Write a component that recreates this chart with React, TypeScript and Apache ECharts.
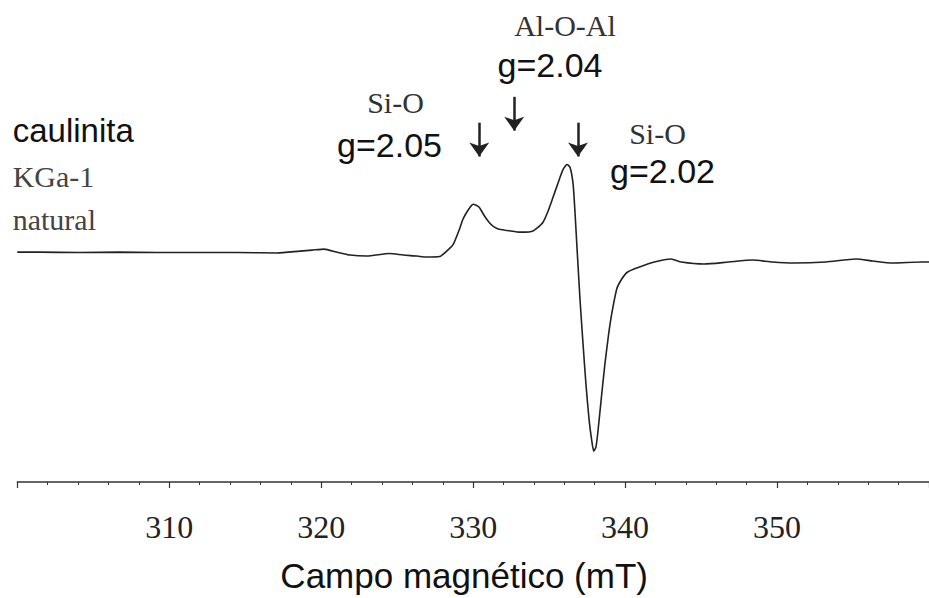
import React, { useEffect, useRef } from "react";
import * as echarts from "echarts";

// Magnetic field (mT) and EPR signal (arbitrary units)
const fieldMT = [
  300.0, 301.5, 304.1, 306.7, 309.3, 311.9, 314.5, 317.1, 318.6, 319.4, 320.2, 321.0,
  321.9, 323.0, 324.5, 325.4, 326.3, 326.9, 327.8, 328.4, 328.7, 329.1, 329.3, 329.5,
  329.8, 330.0, 330.2, 330.4, 330.6, 330.8, 331.1, 331.4, 331.7, 332.1, 332.6, 333.0,
  333.4, 333.9, 334.2, 334.6, 334.9, 335.21, 335.6, 335.92, 336.18, 336.38, 336.58,
  336.71, 336.84, 337.03, 337.23, 337.42, 337.62, 337.81, 337.94, 338.08, 338.2, 338.4,
  338.66, 338.92, 339.12, 339.45, 339.78, 340.17, 340.95, 341.92, 343.02, 343.7, 345.2,
  346.8, 348.4, 349.7, 351.1, 353.2, 355.2, 356.3, 357.6, 359.5, 360.0,
];
const signalAU = [
  0.2, 0.2, 0.15, 0.2, 0.15, 0.15, 0.15, 0.1, 0.3, 0.4, 0.5, 0.2,
  -0.1, -0.2, 0.05, -0.1, -0.2, -0.3, -0.25, 0.5, 1.0, 2.5, 3.4, 4.0,
  4.7, 5.0, 4.9, 4.7, 4.2, 3.7, 3.1, 2.7, 2.5, 2.4, 2.3, 2.2,
  2.2, 2.3, 2.6, 3.2, 4.2, 5.5, 7.2, 8.5, 9.0, 8.7, 7.0,
  4.0, 0.5, -4.5, -9.0, -13.0, -16.5, -18.8, -19.8, -19.4, -18.0, -15.0,
  -11.2, -8.0, -6.0, -3.5, -2.5, -1.8, -1.3, -0.8, -0.5, -0.8, -1.0,
  -0.8, -0.6, -0.8, -0.9, -0.8, -0.5, -0.7, -0.9, -0.8, -0.8,
];

// Axis settings
const xMin = 300;
const xMax = 360;
const xInterval = 10;

// Arrow annotations (field position, start and end in signal units)
const arrowField = [330.4, 332.7, 336.9];
const arrowFrom = [13.2, 15.8, 13.2];
const arrowTo = [9.8, 12.4, 9.8];

const SANS = "'Liberation Sans', Arial, sans-serif";
const SERIF = "'Liberation Serif', 'Times New Roman', serif";

function txt(text: string, x: number, y: number, font: string, fill: string, align = "left") {
  return {
    type: "text",
    x,
    y,
    silent: true,
    style: {
      text,
      font,
      fill,
      align,
      verticalAlign: "middle",
      textAlign: align,
      textVerticalAlign: "middle",
    },
  };
}

export default function App() {
  const ref = useRef<HTMLDivElement>(null);
  useEffect(() => {
    if (!ref.current) return;
    const chart = echarts.init(ref.current, undefined, { renderer: "svg" });
    const data = fieldMT.map((b, i) => [b, signalAU[i]]);
    chart.setOption({
      animation: false,
      backgroundColor: "#ffffff",
      grid: { left: 17.3, right: -8, top: 55, bottom: 114, containLabel: false },
      xAxis: {
        type: "value",
        min: xMin,
        max: xMax,
        interval: xInterval,
        splitNumber: 5,
        name: "Campo magnético (mT)",
        nameLocation: "middle",
        nameGap: 76,
        nameTextStyle: { fontFamily: SANS, fontSize: 35, color: "#111", padding: [0, 18, 0, 0] },
        axisLine: { show: true, onZero: false, lineStyle: { color: "#333", width: 1.5 } },
        axisTick: { show: true, length: 6, lineStyle: { color: "#333", width: 1.2 } },
        minorTick: { show: true, splitNumber: 5, length: 3, lineStyle: { color: "#333", width: 1 } },
        splitLine: { show: false },
        minorSplitLine: { show: false },
        axisLabel: {
          fontFamily: SERIF,
          fontSize: 32,
          color: "#222",
          margin: 29,
          showMinLabel: false,
          showMaxLabel: false,
        },
      },
      yAxis: {
        type: "value",
        show: false,
        min: -22.9,
        max: 20,
        splitLine: { show: false },
      },
      series: [
        {
          type: "line",
          data,
          showSymbol: false,
          symbol: "none",
          smooth: 0.2,
          lineStyle: { color: "#222", width: 1.6 },
          markLine: {
            silent: true,
            symbol: ["none", "arrow"],
            symbolSize: [15, 14],
            lineStyle: { color: "#222", width: 2.5, type: "solid" },
            label: { show: false },
            data: arrowField.map((b, i) => [
              { coord: [b, arrowFrom[i]] },
              { coord: [b, arrowTo[i]] },
            ]),
          },
        },
      ],
      graphic: [
        txt("caulinita", 12.7, 130.5, `33px ${SANS}`, "#111"),
        txt("KGa-1", 12.7, 176, `30px ${SERIF}`, "#444"),
        txt("natural", 12.7, 219, `30px ${SERIF}`, "#444"),
        txt("Si-O", 395.5, 102, `30px ${SERIF}`, "#333", "center"),
        txt("g=2.05", 389.5, 145, `34px ${SANS}`, "#111", "center"),
        txt("Al-O-Al", 565, 25, `30px ${SERIF}`, "#333", "center"),
        txt("g=2.04", 550, 64.5, `34px ${SANS}`, "#111", "center"),
        txt("Si-O", 657.5, 133, `30px ${SERIF}`, "#333", "center"),
        txt("g=2.02", 662.5, 171, `34px ${SANS}`, "#111", "center"),
      ],
    });
    return () => chart.dispose();
  }, []);
  return (
    <div
      ref={ref}
      style={{ position: "fixed", left: 0, top: 0, width: 929, height: 598, background: "#fff" }}
    />
  );
}
